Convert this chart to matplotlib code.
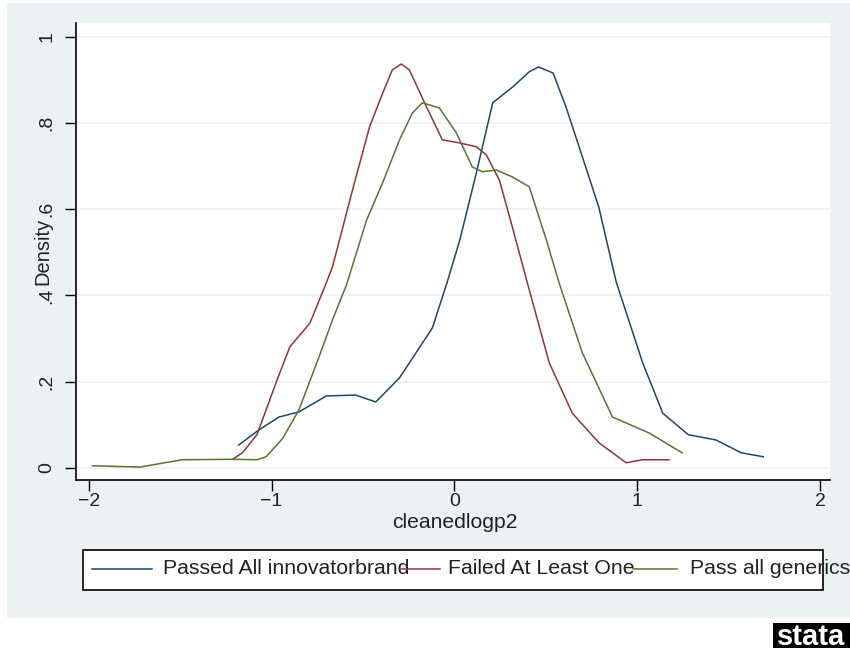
import matplotlib
matplotlib.use("Agg")
import matplotlib.pyplot as plt
from matplotlib.patches import Rectangle
from matplotlib.lines import Line2D

plt.rcParams["font.family"] = ["Liberation Sans", "DejaVu Sans"]

# kernel density curves
passed_x = [-1.18, -1.07, -0.96, -0.85, -0.70, -0.54, -0.43, -0.30, -0.12, -0.04,
            0.03, 0.12, 0.21, 0.32, 0.41, 0.46, 0.54, 0.61, 0.70, 0.79, 0.885,
            1.03, 1.14, 1.28, 1.43, 1.57, 1.69]
passed_y = [0.053, 0.088, 0.118, 0.130, 0.167, 0.169, 0.153, 0.209, 0.325, 0.430,
            0.529, 0.684, 0.847, 0.884, 0.919, 0.930, 0.916, 0.838, 0.722, 0.605, 0.432,
            0.244, 0.127, 0.077, 0.065, 0.035, 0.026]

failed_x = [-1.21, -1.16, -1.08, -0.97, -0.90, -0.79, -0.70, -0.667, -0.557, -0.464,
            -0.40, -0.34, -0.29, -0.246, -0.153, -0.066, 0.027, 0.12, 0.175, 0.246,
            0.317, 0.40, 0.519, 0.645, 0.792, 0.94, 1.03, 1.175]
failed_y = [0.021, 0.035, 0.077, 0.204, 0.281, 0.336, 0.430, 0.466, 0.645, 0.791,
            0.861, 0.923, 0.937, 0.923, 0.838, 0.761, 0.754, 0.745, 0.726, 0.668,
            0.559, 0.428, 0.244, 0.127, 0.058, 0.012, 0.019, 0.019]

generic_x = [-1.98, -1.72, -1.49, -1.21, -1.08, -1.03, -0.94, -0.85, -0.74, -0.667,
             -0.59, -0.48, -0.393, -0.30, -0.23, -0.175, -0.082, 0.011, 0.098, 0.153,
             0.23, 0.317, 0.41, 0.503, 0.574, 0.70, 0.865, 1.066, 1.246]
generic_y = [0.005, 0.002, 0.019, 0.020, 0.019, 0.026, 0.068, 0.135, 0.258, 0.343,
             0.425, 0.575, 0.661, 0.761, 0.823, 0.847, 0.835, 0.777, 0.698, 0.687,
             0.691, 0.675, 0.652, 0.529, 0.428, 0.267, 0.118, 0.081, 0.035]

labels = ["Passed All innovatorbrand", "Failed At Least One", "Pass all generics"]
colors = ["#1a476f", "#90353b", "#55752f"]
yticks = [0, 0.2, 0.4, 0.6, 0.8, 1.0]
ytick_labels = ["0", ".2", ".4", ".6", ".8", "1"]
xticks = [-2, -1, 0, 1, 2]

W, H = 850, 650
fig = plt.figure(figsize=(8.5, 6.5), dpi=100, facecolor="white")

# graph region background
fig.patches.append(Rectangle((7 / W, 1 - 618 / H), (W - 7) / W, (618 - 3) / H,
                             transform=fig.transFigure, facecolor="#eaf2f3",
                             edgecolor="none", zorder=-5))

ax = fig.add_axes([76 / W, 1 - 480 / H, (830 - 76) / W, (480 - 23) / H])
ax.set_facecolor("white")

for xs, ys, c in zip([passed_x, failed_x, generic_x], [passed_y, failed_y, generic_y], colors):
    ax.plot(xs, ys, color=c, lw=1.1, solid_joinstyle="round")

ax.set_xlim(-2.07, 2.055)
ax.set_ylim(-0.028, 1.032)
ax.set_yticks(yticks)
ax.set_yticklabels(ytick_labels, rotation=90, va="center")
ax.set_xticks(xticks)
ax.set_xticklabels(["\u22122", "\u22121", "0", "1", "2"])
ax.grid(axis="y", color="#eef2f2", lw=1.2)
ax.set_axisbelow(True)
for s in ["top", "right"]:
    ax.spines[s].set_visible(False)
for s in ["left", "bottom"]:
    ax.spines[s].set_color("black")
    ax.spines[s].set_linewidth(1.2)
ax.tick_params(axis="both", direction="out", length=8, width=1.0, colors="black",
               labelcolor="#222222", labelsize=14)
ax.tick_params(axis="y", pad=7)
ax.tick_params(axis="x", pad=1)

# axis titles (Stata squeezes the y title between the .4 and .6 labels)
fig.text(43 / W, 1 - 251 / H, "Density", rotation=90, ha="center", va="center",
         fontsize=14.5, color="#222222", zorder=5)
fig.text(455 / W, 1 - 523 / H, "cleanedlogp2", ha="center", va="center",
         fontsize=15.2, color="#222222")

# legend drawn by hand (text spills past the frame as in the original)
fig.patches.append(Rectangle((83 / W, 1 - 590 / H), (823 - 83) / W, (590 - 550) / H,
                             transform=fig.transFigure, facecolor="white",
                             edgecolor="black", lw=1.2, zorder=1))
ly = 1 - 569 / H
line_spans = [(92, 152), (400, 440), (633, 677)]
text_x = [163, 448, 690]
for (a, b), tx, c, lab in zip(line_spans, text_x, colors, labels):
    fig.text(tx / W, ly, lab, ha="left", va="center", fontsize=15.3,
             color="#222222", zorder=2)
    fig.lines.append(Line2D([a / W, b / W], [ly, ly], transform=fig.transFigure,
                            color=c, lw=1.1, zorder=3))

# stata logo
fig.patches.append(Rectangle((773 / W, 1 - 648 / H), (850 - 773) / W, (648 - 623) / H,
                             transform=fig.transFigure, facecolor="black",
                             edgecolor="none", zorder=1))
fig.text(811 / W, 1 - 637 / H, "stata", ha="center", va="center", fontsize=21,
         fontweight="bold", color="white", zorder=2)

fig.savefig("out.png", dpi=100, facecolor="white")
